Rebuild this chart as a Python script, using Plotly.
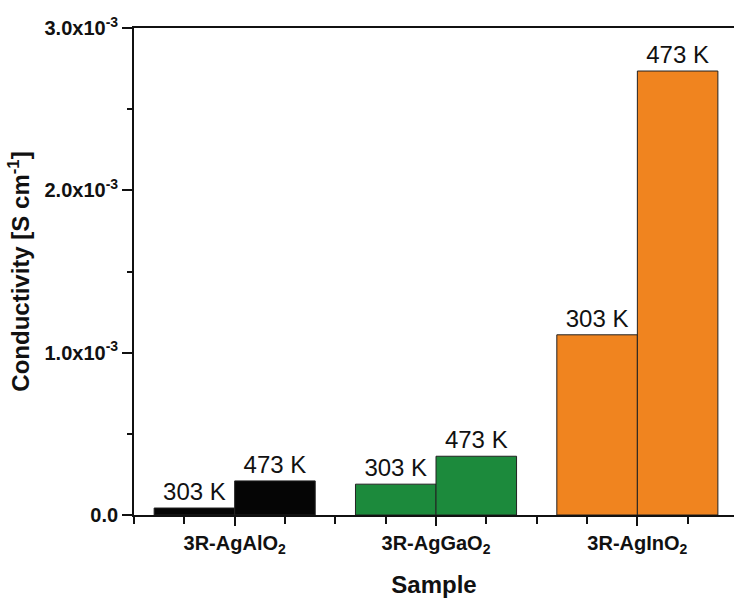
import plotly.graph_objects as go

categories = ["3R-AgAlO<sub>2</sub>", "3R-AgGaO<sub>2</sub>", "3R-AgInO<sub>2</sub>"]
cond_303K = [0.043e-3, 0.19e-3, 1.11e-3]
cond_473K = [0.21e-3, 0.362e-3, 2.735e-3]
series_labels = ["303 K", "473 K"]
bar_colors = ["#050505", "#1c8a3c", "#f0841f"]
y_tickvals = [0, 1e-3, 2e-3, 3e-3]
y_ticktext = ["0.0", "1.0x10<sup>-3</sup>", "2.0x10<sup>-3</sup>", "3.0x10<sup>-3</sup>"]

FONT = "Liberation Sans, Arial, sans-serif"
x_pos = list(range(len(categories)))

fig = go.Figure()
for name, vals in zip(series_labels, [cond_303K, cond_473K]):
    fig.add_trace(go.Bar(
        x=x_pos, y=vals, name=name,
        marker=dict(color=bar_colors, line=dict(color="#222222", width=1)),
        text=[name] * len(vals), textposition="outside",
        textfont=dict(family=FONT, size=24, color="#111111"),
        constraintext="none", cliponaxis=False,
    ))

fig.update_layout(
    width=734, height=603,
    margin=dict(l=134, r=0, t=28, b=88),
    paper_bgcolor="white", plot_bgcolor="white",
    barmode="group", bargap=0.2, bargroupgap=0,
    showlegend=False,
    font=dict(family=FONT, color="#111111"),
)
fig.update_xaxes(
    range=[-0.5, 2.48],
    tickmode="array", tickvals=x_pos, ticktext=["<b>%s</b>" % c for c in categories],
    tickfont=dict(size=20, family=FONT),
    ticks="outside", ticklen=9, tickwidth=1.5, tickcolor="#111111",
    minor=dict(tickmode="array", tickvals=[-0.5, -0.25, 0.25, 0.5, 0.75, 1.25, 1.5, 1.75, 2.25],
               ticks="outside", ticklen=7, tickwidth=1.5, tickcolor="#111111"),
    showline=True, linewidth=1.8, linecolor="#111111", mirror=True,
    showgrid=False, zeroline=False,
    title=dict(text="<b>Sample</b>", font=dict(size=24, family=FONT), standoff=20),
)
fig.update_yaxes(
    range=[0, 3e-3],
    tickmode="array", tickvals=y_tickvals, ticktext=["<b>%s</b>" % t for t in y_ticktext],
    tickfont=dict(size=20, family=FONT),
    ticks="outside", ticklen=10, tickwidth=1.5, tickcolor="#111111",
    minor=dict(dtick=0.5e-3, tick0=0, ticks="outside", ticklen=5, tickwidth=1.5, tickcolor="#111111"),
    showline=True, linewidth=1.8, linecolor="#111111",
    showgrid=False, zeroline=False,
    title=dict(text="<b>Conductivity [S cm<sup>-1</sup>]</b>", font=dict(size=24, family=FONT), standoff=8),
)

fig.write_html("out.html")
